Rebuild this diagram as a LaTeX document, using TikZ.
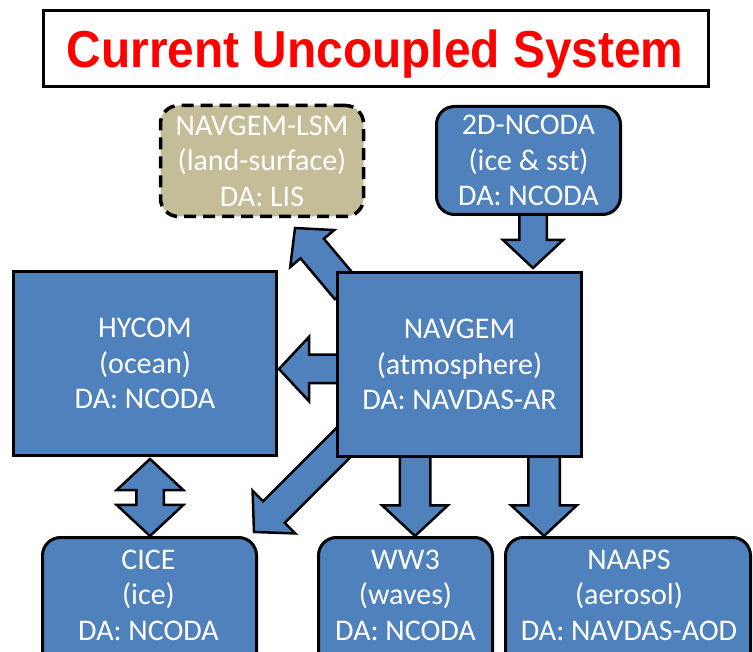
\documentclass[tikz,border=0pt]{standalone}
\usepackage{fontspec}
\setmainfont{Carlito}
\newfontfamily\titlefont{Liberation Sans}
\usetikzlibrary{shapes.arrows,backgrounds}
\definecolor{boxblue}{HTML}{4F81BD}
\definecolor{lsmtan}{HTML}{C4BD97}
\definecolor{titlered}{HTML}{FF0000}
\begin{document}
\begin{tikzpicture}[x=1pt,y=-1pt,
  box/.style={draw=black, line width=3pt, fill=boxblue, text=white,
    font=\fontsize{30}{35.5}\selectfont, align=center, inner sep=0pt, outer sep=0pt},
  roundbox/.style={box, rounded corners=18pt},
  boxtext/.style={text=white, font=\fontsize{30}{35.5}\selectfont, align=center, inner sep=0pt},
  blockarrow/.style={single arrow, draw=black, line width=2.5pt, fill=boxblue,
    inner xsep=0pt, outer sep=0pt, single arrow head indent=0pt,
    single arrow tip angle=94, anchor=tip},
  dblarrow/.style={double arrow, draw=black, line width=2.5pt, fill=boxblue,
    inner xsep=0pt, outer sep=0pt, double arrow head indent=0pt,
    double arrow tip angle=94}
]
\useasboundingbox (0,0) rectangle (753,652);

% title
\node[draw=black, line width=3pt, fill=white, minimum width=665, minimum height=76,
  inner sep=0pt] (titlebox) at (376,48.5) {};
\node[font=\titlefont\bfseries\fontsize{52}{60}\selectfont, text=titlered,
  anchor=base, xscale=0.92, inner sep=0pt] (title) at (375,68) {Current Uncoupled System};

% boxes
\node[roundbox, fill=lsmtan, dash pattern=on 12pt off 7pt, line width=3.5pt,
  minimum width=203, minimum height=111] (lsm) at (262,161)
  {NAVGEM-LSM\\(land-surface)\\DA: LIS};
\node[roundbox, minimum width=184, minimum height=108] (ncoda) at (528.5,160.5)
  {2D-NCODA\\(ice \& sst)\\DA: NCODA};
\node[box, minimum width=263, minimum height=184] (hycom) at (145,363.5)
  {HYCOM\\(ocean)\\DA: NCODA};
\node[box, minimum width=244, minimum height=184] (navgem) at (459.5,364.5)
  {NAVGEM\\(atmosphere)\\DA: NAVDAS-AR};

\node[roundbox, minimum width=214, minimum height=150, anchor=north] (cice) at (149.5,537.5) {};
\node[boxtext] (cicetxt) at (148.5,595) {CICE\\(ice)\\DA: NCODA};
\node[roundbox, minimum width=174, minimum height=150, anchor=north] (ww3) at (405.5,537.5) {};
\node[boxtext] (ww3txt) at (405.5,595) {WW3\\(waves)\\DA: NCODA};
\node[roundbox, minimum width=245, minimum height=150, anchor=north] (naaps) at (628,537.5) {};
\node[boxtext] (naapstxt) at (629,595) {NAAPS\\(aerosol)\\DA: NAVDAS-AOD};

% arrows
\begin{scope}[on background layer]
\node[blockarrow, inner ysep=12.5pt, single arrow head extend=16.5pt,
  minimum height=58pt, rotate=-90] (atop) at (533,268) {};
\node[blockarrow, inner ysep=14pt, single arrow head extend=17.5pt,
  minimum height=85pt, rotate=-90] (aww3) at (415,536) {};
\node[blockarrow, inner ysep=14.5pt, single arrow head extend=17pt,
  minimum height=85pt, rotate=-90] (anaaps) at (544,536) {};
\node[blockarrow, inner ysep=13pt, single arrow head extend=18pt,
  minimum height=65pt, rotate=180] (ahycom) at (279,369) {};
\node[blockarrow, inner ysep=14pt, single arrow head extend=13.5pt,
  minimum height=80pt, rotate=130] (alsm) at (295,228) {};
\node[blockarrow, inner ysep=14pt, single arrow head extend=15pt,
  minimum height=140pt, rotate=225] (acice) at (254,532) {};
\node[dblarrow, inner ysep=12.5pt, double arrow head extend=19.5pt,
  minimum height=77pt, rotate=90] (adbl) at (150,497.5) {};
\end{scope}
\end{tikzpicture}
\end{document}
